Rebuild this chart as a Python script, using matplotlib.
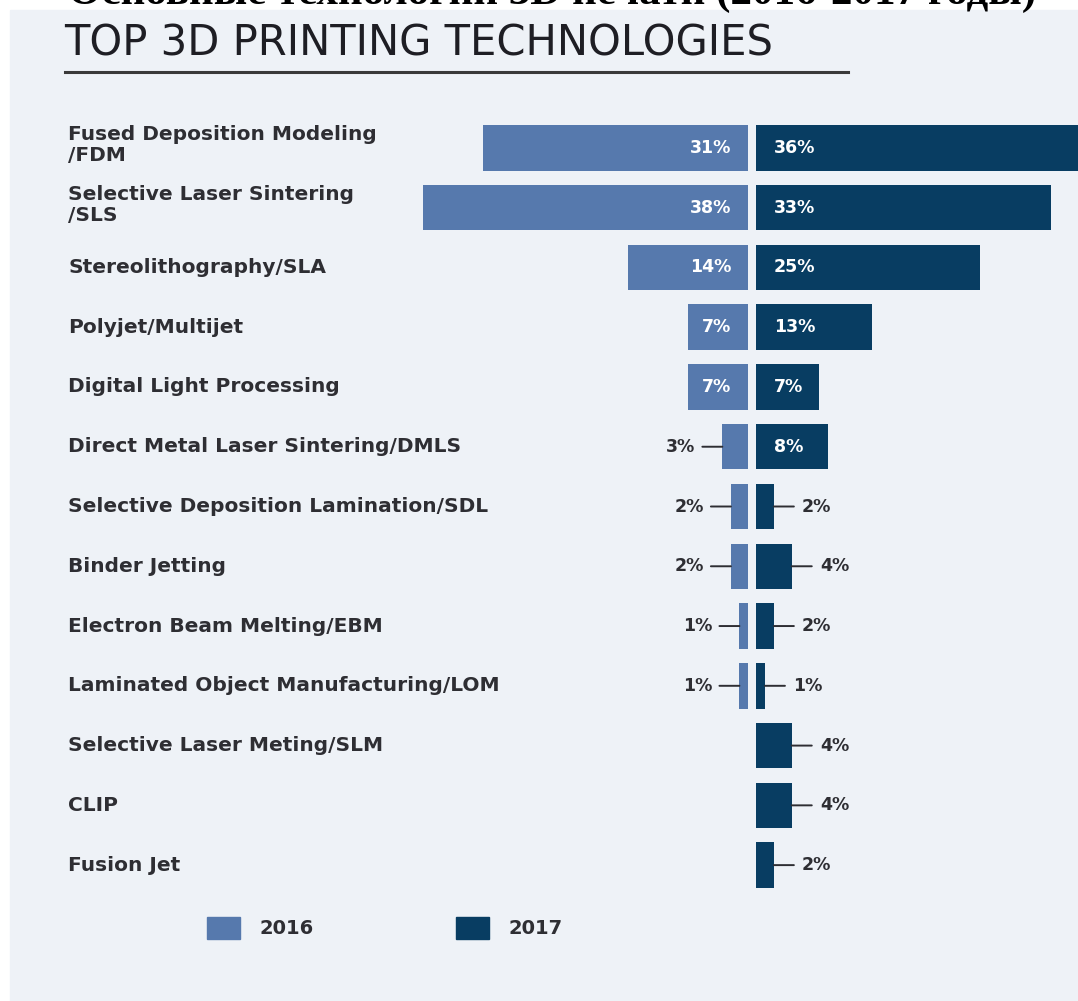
import numpy as np
import matplotlib.pyplot as plt
from matplotlib.patches import Patch, Rectangle
from matplotlib.transforms import blended_transform_factory

# data
technologies = [
    "Fused Deposition Modeling\n/FDM",
    "Selective Laser Sintering\n/SLS",
    "Stereolithography/SLA",
    "Polyjet/Multijet",
    "Digital Light Processing",
    "Direct Metal Laser Sintering/DMLS",
    "Selective Deposition Lamination/SDL",
    "Binder Jetting",
    "Electron Beam Melting/EBM",
    "Laminated Object Manufacturing/LOM",
    "Selective Laser Meting/SLM",
    "CLIP",
    "Fusion Jet",
]
share_2016 = [31, 38, 14, 7, 7, 3, 2, 2, 1, 1, np.nan, np.nan, np.nan]
share_2017 = [36, 33, 25, 13, 7, 8, 2, 4, 2, 1, 4, 4, 2]
years = ["2016", "2017"]

color_2016 = "#5679ad"
color_2017 = "#083d62"
bg_color = "#eef2f7"
text_color = "#2e2e33"

W, H = 1078, 1001
fig = plt.figure(figsize=(W / 100, H / 100), dpi=100, facecolor="white")

# light panel behind the infographic
fig.patches.append(Rectangle((10 / W, 0), 1 - 10 / W, 1 - 10 / H,
                             transform=fig.transFigure, color=bg_color, zorder=-10))

# cut-off russian heading at the very top (only its lower part is visible)
fig.text(552 / W, 1 - 4 / H, "Основные технологии 3D печати (2016-2017 годы)",
         ha="center", va="baseline", fontsize=31, fontweight="bold",
         family=["Liberation Serif", "DejaVu Serif"], color="black")

# title + rule
fig.text(64 / W, 1 - 43 / H, "TOP 3D PRINTING TECHNOLOGIES", ha="left", va="center",
         fontsize=30, family="DejaVu Sans", color="#1e1e24")
fig.add_artist(plt.Line2D([65 / W, 848 / W], [1 - 72 / H, 1 - 72 / H],
                          transform=fig.transFigure, color="#3a3a3a", lw=2.2))

bottom = (H - 895) / H
height = 777 / H
ax16 = fig.add_axes([400 / W, bottom, 348 / W, height])
ax17 = fig.add_axes([756 / W, bottom, 322 / W, height])

y = np.arange(len(technologies))
bar_h = 0.76
ax16.barh(y, share_2016, height=bar_h, color=color_2016)
ax17.barh(y, share_2017, height=bar_h, color=color_2017)

ax16.set_xlim(40.7, 0)
ax17.set_xlim(0, 36)
for ax in (ax16, ax17):
    ax.set_ylim(len(technologies) - 0.5, -0.5)
    ax.axis("off")

val_font = dict(fontsize=12.5, fontweight="bold", family="DejaVu Sans")
for i in y:
    v = share_2016[i]
    if not np.isnan(v):
        if v >= 5:
            ax16.annotate(f"{v:.0f}%", xy=(0, i), xytext=(-17, 0), textcoords="offset pixels",
                          ha="right", va="center", color="white", **val_font)
        else:
            ax16.annotate("", xy=(v, i), xytext=(-20, 0), textcoords="offset pixels",
                          arrowprops=dict(arrowstyle="-", color=text_color, lw=1.4,
                                          shrinkA=0, shrinkB=0))
            ax16.annotate(f"{v:.0f}%", xy=(v, i), xytext=(-27, 0), textcoords="offset pixels",
                          ha="right", va="center", color=text_color, **val_font)
    v = share_2017[i]
    if v >= 5:
        ax17.annotate(f"{v:.0f}%", xy=(0, i), xytext=(18, 0), textcoords="offset pixels",
                      ha="left", va="center", color="white", **val_font)
    else:
        ax17.annotate("", xy=(v, i), xytext=(20, 0), textcoords="offset pixels",
                      arrowprops=dict(arrowstyle="-", color=text_color, lw=1.4,
                                      shrinkA=0, shrinkB=0))
        ax17.annotate(f"{v:.0f}%", xy=(v, i), xytext=(28, 0), textcoords="offset pixels",
                      ha="left", va="center", color=text_color, **val_font)

# category names on the left
lab_tr = blended_transform_factory(fig.transFigure, ax16.transData)
for i, name in zip(y, technologies):
    fig.text(68 / W, i - 0.05 if "\n" in name else i, name, transform=lab_tr,
             ha="left", va="center", fontsize=14.5, fontweight="bold",
             color=text_color, linespacing=1.15)

handles = [Patch(color=color_2016), Patch(color=color_2017)]
fig.legend(handles, years, loc="center left", bbox_to_anchor=(207 / W, 1 - 928 / H),
           ncol=2, frameon=False, borderpad=0, borderaxespad=0,
           handlelength=1.7, handleheight=1.4,
           handletextpad=1.0, columnspacing=7.3,
           prop=dict(size=14, weight="bold", family="DejaVu Sans"),
           labelcolor=text_color)

fig.savefig("out.png", dpi=100, facecolor=fig.get_facecolor())
